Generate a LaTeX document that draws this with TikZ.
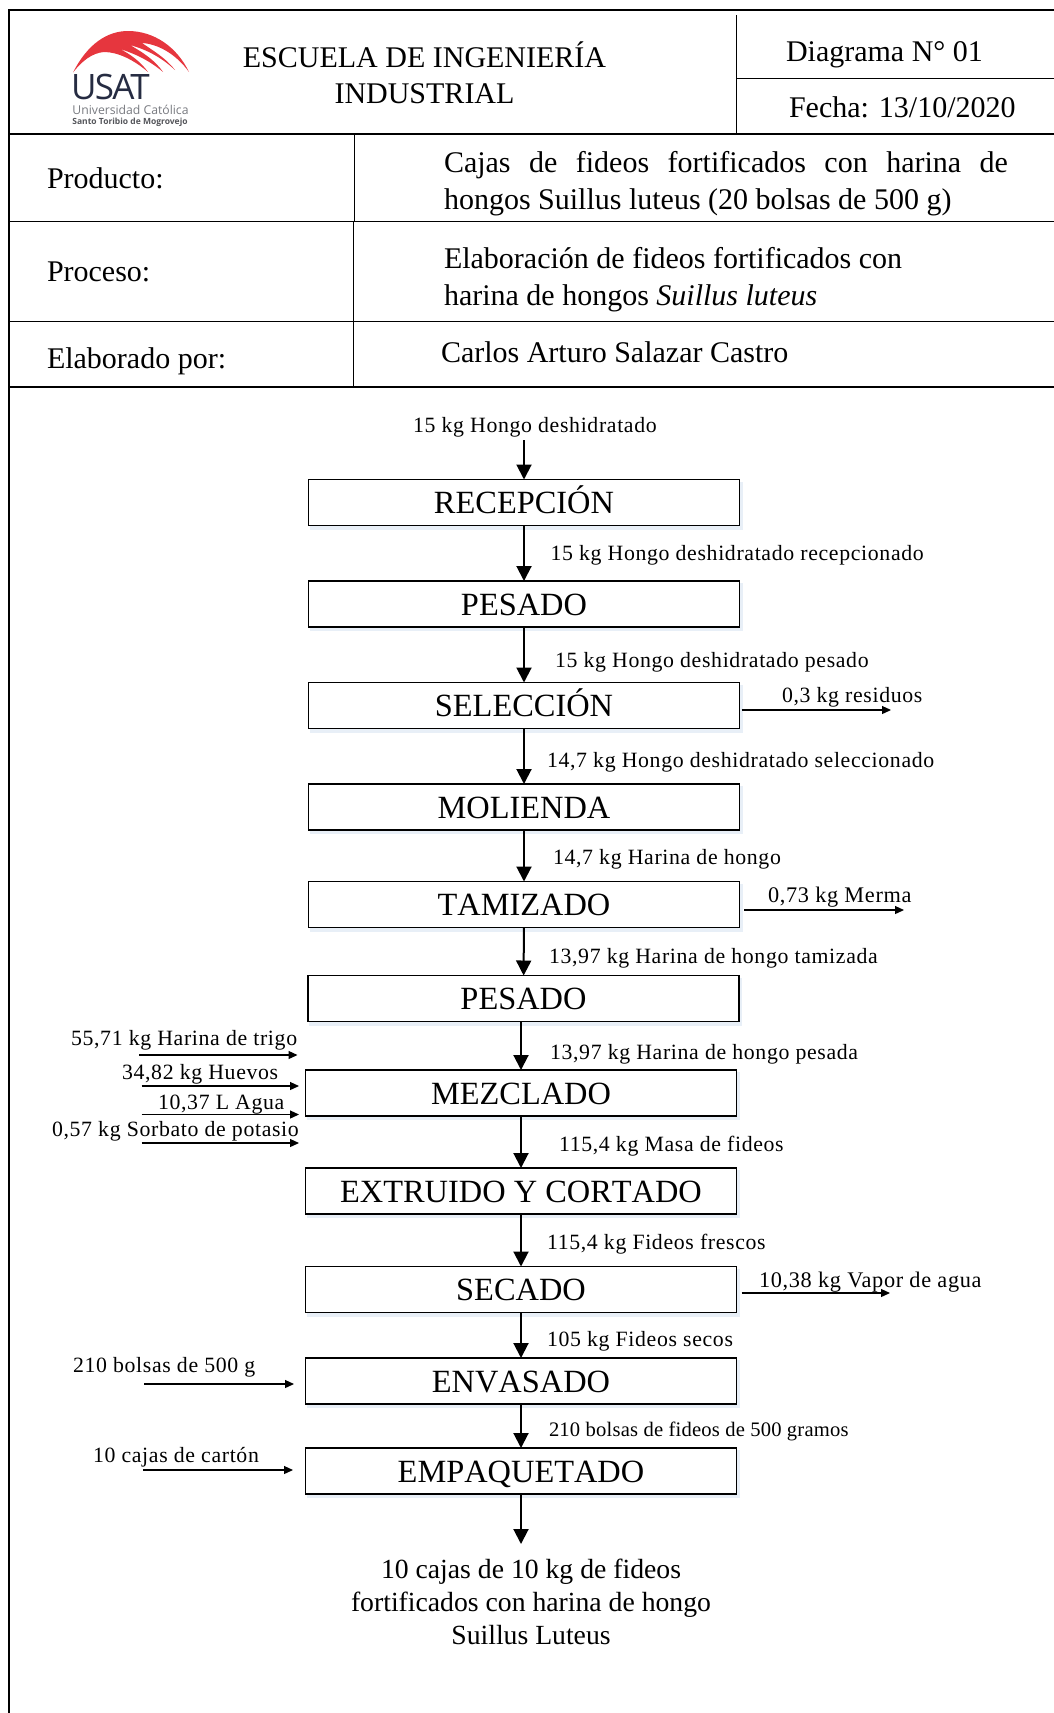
\documentclass[tikz,border=0pt]{standalone}
\usepackage{fontspec}
\setmainfont{Liberation Serif}
\newfontfamily\logofont{Open Sans}
\usetikzlibrary{arrows.meta}
\definecolor{usatred}{RGB}{230,54,62}
\definecolor{usatnavy}{RGB}{38,44,66}
\definecolor{usatgray}{RGB}{120,122,128}
\definecolor{softshadow}{RGB}{232,239,247}
\tikzset{
  rule/.style={line width=1.7pt,black},
  thinrule/.style={line width=1.3pt,black},
  proc/.style={draw=black,line width=1.4pt,fill=white,preaction={fill=softshadow,draw=softshadow,line width=2pt,transform canvas={xshift=2pt,yshift=-3pt}},minimum width=431pt,minimum height=46pt,inner sep=0pt,outer sep=0pt,text height=29pt,text depth=7pt,font=\fontsize{32.4}{36}\selectfont\addfontfeature{Kerning=Off}},
  head/.style={inner sep=0pt,outer sep=0pt,anchor=west,text height=26.6pt,text depth=6pt,font=\fontsize{30}{32}\selectfont},
  title/.style={inner sep=0pt,outer sep=0pt,text height=20pt,text depth=6pt,font=\fontsize{30}{36}\selectfont},
  lab/.style={inner sep=0pt,outer sep=0pt,anchor=west,text height=20pt,text depth=5pt,font=\fontsize{21.8}{25}\selectfont\addfontfeature{LetterSpace=3}},
  flow/.style={line width=2pt,-{Triangle[length=15pt,width=15pt]}},
  side/.style={line width=1.2pt,-{Triangle[length=9pt,width=8pt]}}
}
\begin{document}
\begin{tikzpicture}[x=1pt,y=-1pt]
\useasboundingbox (0,0) rectangle (1054,1713);
% frame
\draw[rule] (9,1713) -- (9,10) -- (1054,10);
\draw[rule] (9,134) -- (1054,134);
\draw[rule] (9,221.5) -- (1054,221.5);
\draw[rule] (9,321.5) -- (1054,321.5);
\draw[rule] (9,387) -- (1054,387);
\draw[thinrule] (736.5,15) -- (736.5,134);
\draw[rule] (736.5,78.5) -- (1054,78.5);
\draw[thinrule] (354.5,134) -- (354.5,221.5);
\draw[thinrule] (353.5,221.5) -- (353.5,387);
% logo
\fill[usatred] (73,72.5) .. controls (88,43) and (108,31) .. (128,31) .. controls (154,31) and (177,47) .. (189,72)
  .. controls (176,54) and (158,44) .. (142,43) .. controls (152,50) and (166,58) .. (175,70)
  .. controls (162,58) and (148,50) .. (130,45) .. controls (142,52) and (155,60) .. (163,72)
  .. controls (150,61) and (136,54) .. (120,49) .. controls (130,54) and (141,62) .. (148,72)
  .. controls (134,60) and (118,52) .. (104,52) .. controls (92,53) and (82,61) .. (73,72.5) -- cycle;
\node[inner sep=0pt,text=usatnavy,font=\logofont\fontsize{35}{35}\selectfont\addfontfeature{LetterSpace=-5}] (lusat) at (110.5,87) {USAT};
\node[inner sep=0pt,text=usatgray,font=\logofont\fontsize{12.2}{14}\selectfont] (luni) at (130.5,109.5) {Universidad Católica};
\node[inner sep=0pt,text=usatgray!70!black,font=\logofont\bfseries\fontsize{8.5}{11}\selectfont] (lsto) at (130,122) {Santo Toribio de Mogrovejo};
% header
\node[title] (t1) at (424.5,60.5) {ESCUELA DE INGENIERÍA};
\node[title] (t2) at (424.5,96.5) {INDUSTRIAL};
\node[head] (dg) at (786,51) {Diagrama N° 01};
\node[head] (fe) at (789,107) {Fecha: 13/10/2020};
\node[head] (pr) at (47,178) {Producto:};
\node[head] (pc) at (47,271) {Proceso:};
\node[head] (el) at (47,358) {Elaborado por:};
\node[head] (v1a) at (444,162) {\makebox[564pt][s]{Cajas de fideos fortificados con harina de}};
\node[head] (v1b) at (444,199) {hongos Suillus luteus (20 bolsas de 500 g)};
\node[head] (v2a) at (444,258) {Elaboración de fideos fortificados con};
\node[head] (v2b) at (444,295) {harina de hongos \textit{Suillus luteus}};
\node[head] (v3) at (441,352) {Carlos Arturo Salazar Castro};
% process boxes
\node[proc] (recep) at (524,502.5) {RECEPCIÓN};
\node[proc] (pes1) at (524,604) {PESADO};
\node[proc] (sel) at (524,705.5) {SELECCIÓN};
\node[proc] (mol) at (524,807) {MOLIENDA};
\node[proc] (tam) at (524,904.5) {TAMIZADO};
\node[proc] (pes2) at (523.5,998.5) {PESADO};
\node[proc] (mez) at (521,1093) {MEZCLADO};
\node[proc] (ext) at (521,1191) {EXTRUIDO Y CORTADO};
\node[proc] (sec) at (521,1289.5) {SECADO};
\node[proc] (env) at (521,1381) {ENVASADO};
\node[proc] (emp) at (521,1471) {EMPAQUETADO};
% free ends
\coordinate (in0) at (524,440);
\coordinate (out0) at (521,1544);
\draw[flow] (in0) -- (recep.north);
\draw[flow] (recep) -- (pes1);
\draw[flow] (pes1) -- (sel);
\draw[flow] (sel) -- (mol);
\draw[flow] (mol) -- (tam);
\draw[flow] (tam) -- (pes2);
\draw[flow] (pes2.south -| mez.north) -- (mez.north);
\draw[flow] (mez) -- (ext);
\draw[flow] (ext) -- (sec);
\draw[flow] (sec) -- (env);
\draw[flow] (env) -- (emp);
\draw[flow] (emp) -- (out0);
% labels on the main line
\node[lab] (l0) at (413,425) {15 kg Hongo deshidratado};
\node[lab] (l1) at (550.5,553) {15 kg Hongo deshidratado recepcionado};
\node[lab] (l2) at (555,660) {15 kg Hongo deshidratado pesado};
\node[lab] (l3) at (547,760) {14,7 kg Hongo deshidratado seleccionado};
\node[lab] (l4) at (553,857) {14,7 kg Harina de hongo};
\node[lab] (l5) at (549,956) {13,97 kg Harina de hongo tamizada};
\node[lab] (l6) at (550,1052) {13,97 kg Harina de hongo pesada};
\node[lab] (l7) at (559,1143.5) {115,4 kg Masa de fideos};
\node[lab] (l8) at (547,1242) {115,4 kg Fideos frescos};
\node[lab] (l9) at (547,1339) {105 kg Fideos secos};
\node[lab,font=\fontsize{20.6}{24}\selectfont\addfontfeature{LetterSpace=1}] (l10) at (549,1428.5) {210 bolsas de fideos de 500 gramos};
% outputs
\node[lab] (o1) at (782,695) {0,3 kg residuos};
\coordinate (o1a) at (741.5,710); \coordinate (o1b) at (891,710);
\draw[side] (o1a) -- (o1b);
\node[lab] (o2) at (768,895) {{\fontsize{22.3}{25}\selectfont 0,73 kg Merma}};
\coordinate (o2a) at (744,910); \coordinate (o2b) at (904,910);
\draw[side] (o2a) -- (o2b);
\node[lab] (o3) at (759,1280) {{\fontsize{22.3}{25}\selectfont 10,38 kg Vapor de agua}};
\coordinate (o3a) at (741.5,1293); \coordinate (o3b) at (890,1293);
\draw[side] (o3a) -- (o3b);
% inputs
\node[lab] (i1) at (71,1038) {55,71 kg Harina de trigo};
\coordinate (i1a) at (139,1055); \coordinate (i1b) at (297.5,1055);
\draw[side] (i1a) -- (i1b);
\node[lab] (i2) at (122,1072) {34,82 kg Huevos};
\coordinate (i2a) at (141.5,1086); \coordinate (i2b) at (299,1086);
\draw[side] (i2a) -- (i2b);
\node[lab] (i3) at (158,1101.5) {10,37 L Agua};
\coordinate (i3a) at (141.5,1114.5); \coordinate (i3b) at (299,1114.5);
\draw[side] (i3a) -- (i3b);
\node[lab] (i4) at (52,1129) {0,57 kg Sorbato de potasio};
\coordinate (i4a) at (141.5,1143); \coordinate (i4b) at (299,1143);
\draw[side] (i4a) -- (i4b);
\node[lab] (i5) at (73,1365) {210 bolsas de 500 g};
\coordinate (i5a) at (144,1384); \coordinate (i5b) at (294,1384);
\draw[side] (i5a) -- (i5b);
\node[lab] (i6) at (93,1455) {10 cajas de cartón};
\coordinate (i6a) at (143,1470); \coordinate (i6b) at (293,1470);
\draw[side] (i6a) -- (i6b);
% result
\node[inner sep=0pt,font=\fontsize{27.7}{33}\selectfont,align=center] (res) at (531,1602) {10 cajas de 10 kg de fideos\\fortificados con harina de hongo\\Suillus Luteus};
\end{tikzpicture}
\end{document}
